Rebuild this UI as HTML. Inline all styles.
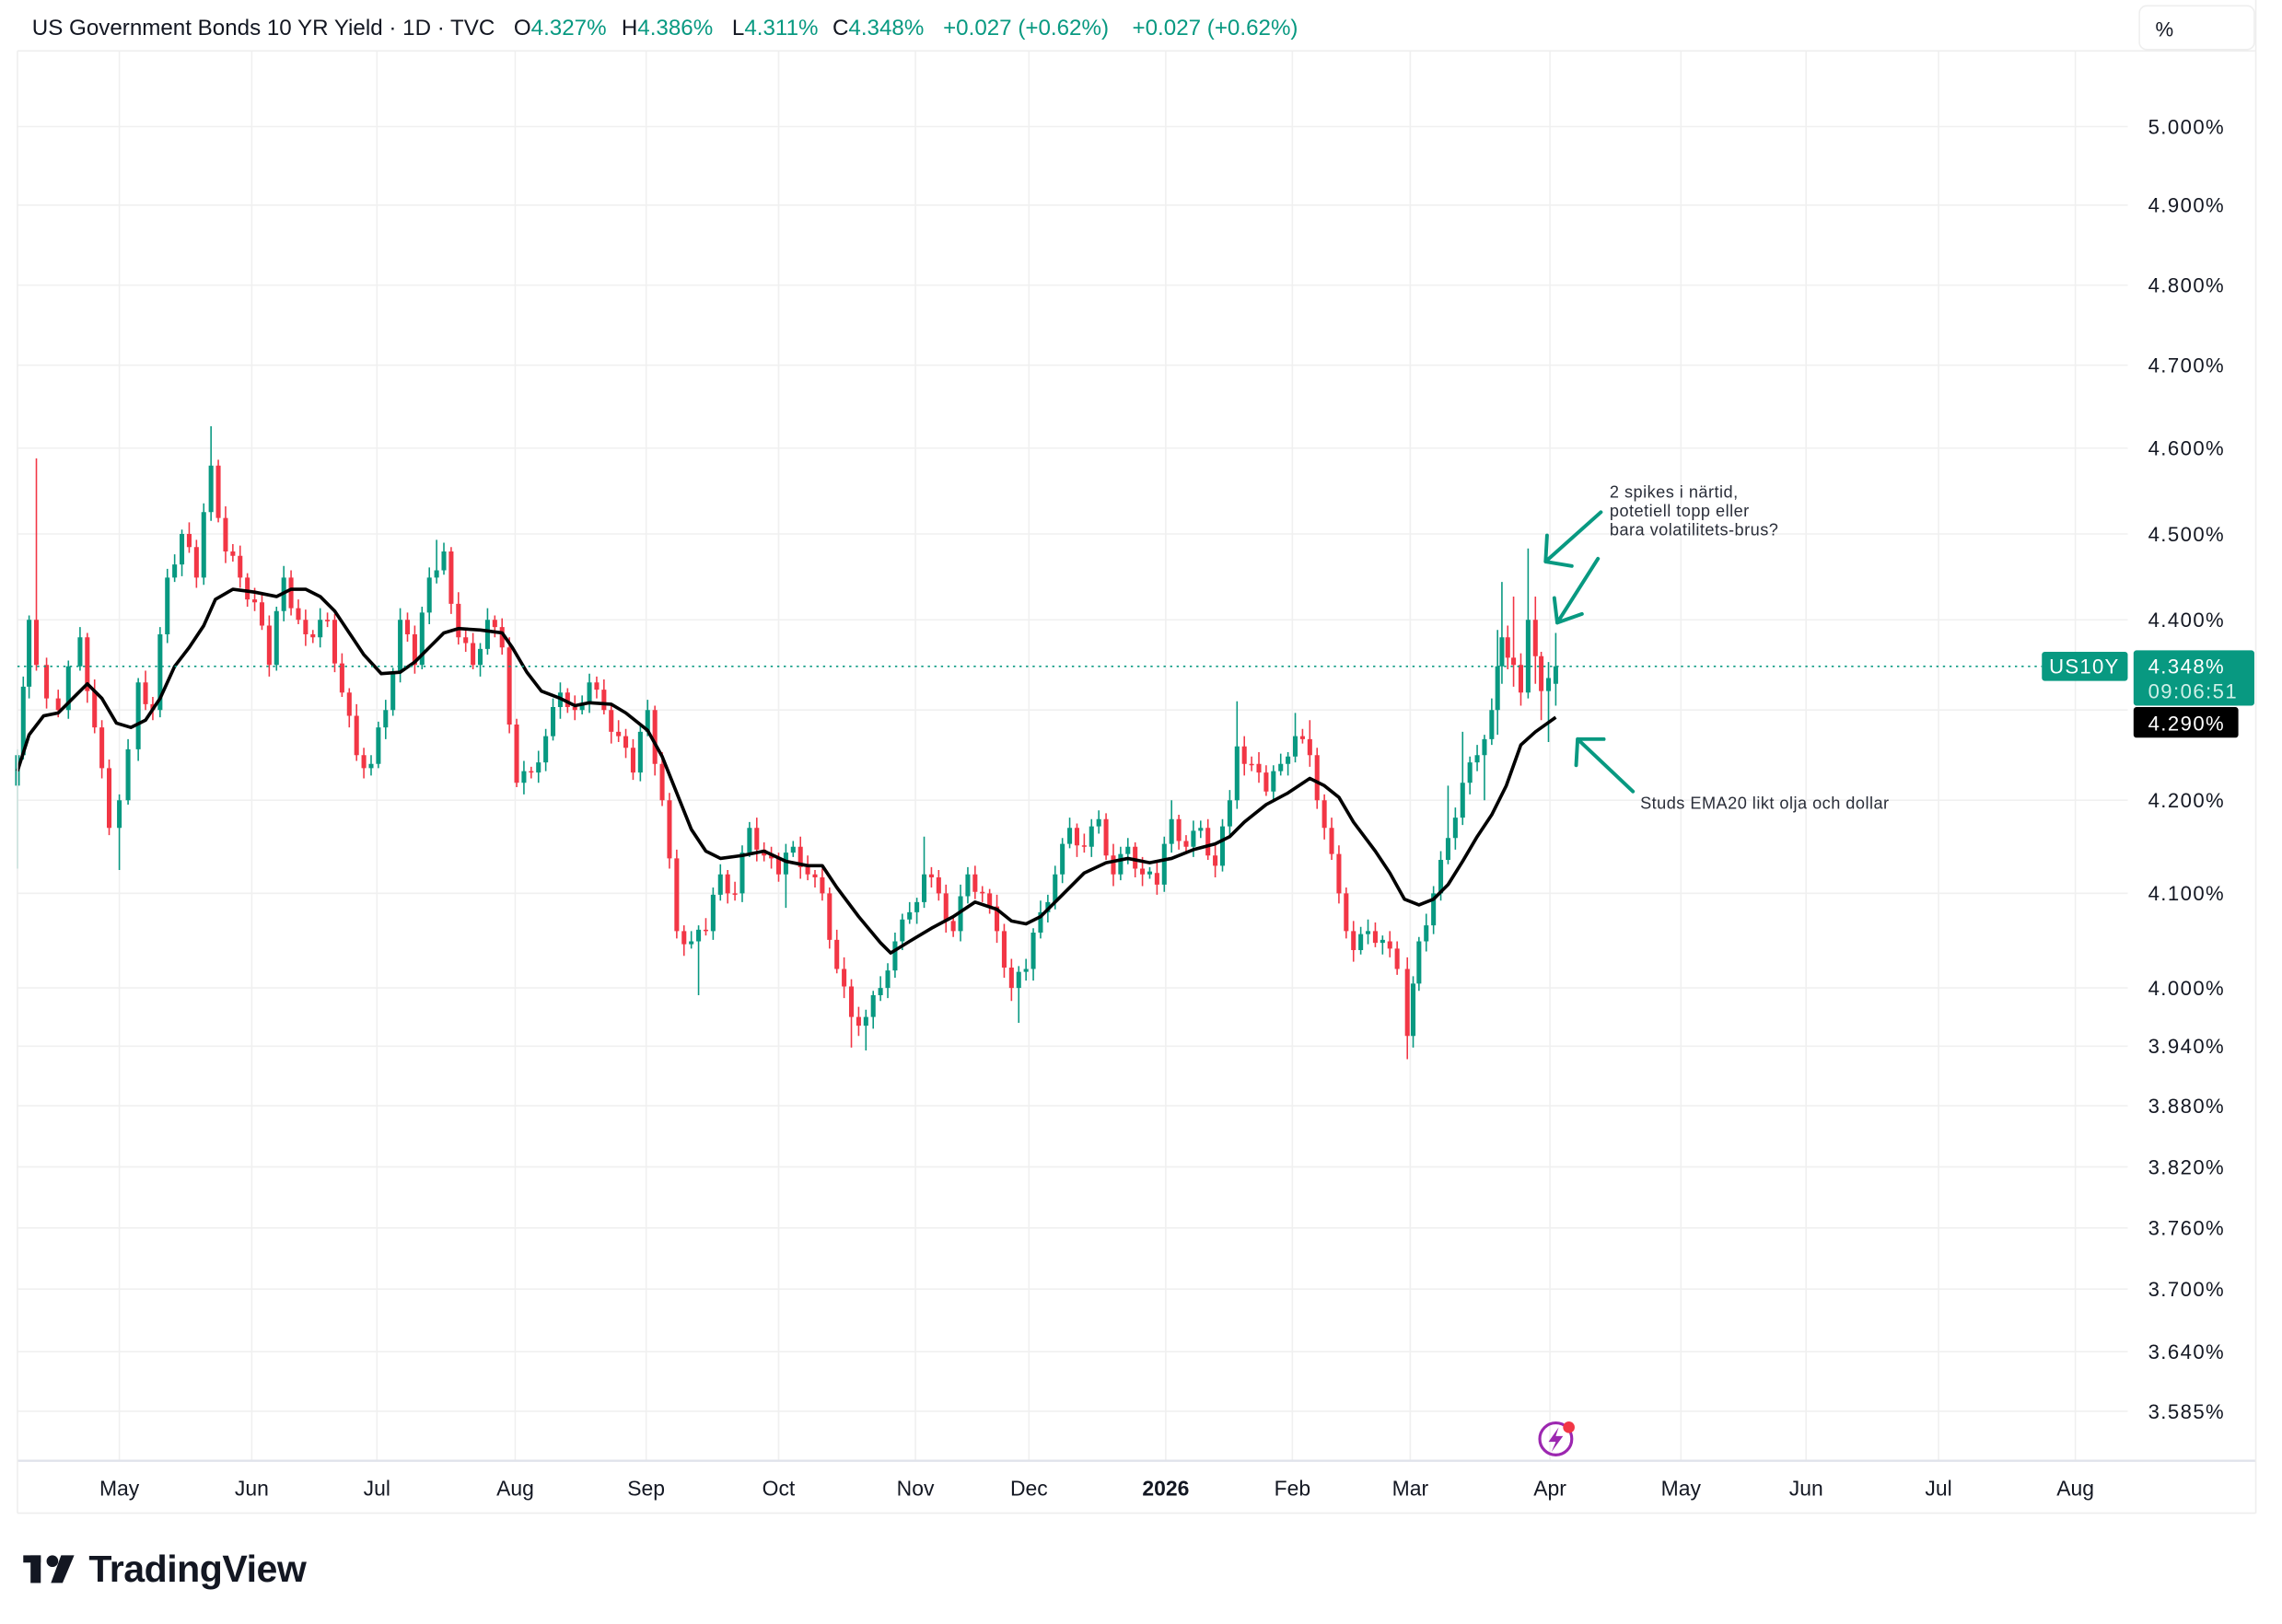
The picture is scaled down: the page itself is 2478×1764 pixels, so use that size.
<!DOCTYPE html>
<html><head><meta charset="utf-8"><style>
html,body{margin:0;padding:0;background:#fff;}
svg{display:block;}
text{font-family:"Liberation Sans",sans-serif;}
</style></head><body>
<svg width="2478" height="1764" viewBox="0 0 1568 1116.2" xmlns="http://www.w3.org/2000/svg">
<rect width="1568" height="1117" fill="#fff"/>
<g stroke="#f0f0f0" stroke-width="1">
<path d="M12 87H1462M12 141H1462M12 196H1462M12 251H1462M12 308H1462M12 367H1462M12 426H1462M12 488H1462M12 550H1462M12 614H1462M12 679H1462M12 719H1462M12 760H1462M12 802H1462M12 844H1462M12 886H1462M12 929H1462M12 970H1462"/>
<path d="M82 35V1004M173 35V1004M259 35V1004M354 35V1004M444 35V1004M535 35V1004M629 35V1004M707 35V1004M801 35V1004M888 35V1004M969 35V1004M1065 35V1004M1155 35V1004M1241 35V1004M1332 35V1004M1426 35V1004"/>
</g>
<!-- green wicks -->
<path stroke="#089981" stroke-width="1" fill="none" d="M12 515V597M16 465V522M20 423V480M47 454V494M55 431V461M82 546V598M88 508V553M95 466V523M110 431V493M115 391V442M120 381V400M125 364V396M140 346V402M145 293V358M190 417V461M195 389V427M220 418V445M255 519V533M260 496V528M265 481V508M270 459V492M275 418V469M290 417V460M295 390V429M300 371V401M305 373V395M330 442V465M335 418V450M360 523V546M370 516V538M375 501V530M380 480V509M385 469V494M400 478V491M405 463V490M440 499V537M445 481V506M475 640V652M480 636V684M490 610V646M495 594V619M510 581V620M515 565V589M540 580V624M545 578V589M595 694V722M600 681V707M605 671V688M610 662V686M615 641V672M620 628V653M625 620V635M630 617V635M635 575V624M660 608V647M665 596V621M700 664V703M705 659V674M710 638V674M715 619V645M720 615V634M725 595V625M730 576V607M735 562V583M750 563V589M755 557V573M770 582V605M775 576V594M790 596V604M800 575V613M805 550V586M820 564V589M825 564V576M840 563V599M845 543V575M850 482V556M875 526V550M880 518V533M885 517V533M890 490V524M935 637V656M940 632V649M950 643V656M971 671V720M975 644V681M980 628V654M985 609V642M990 585V619M995 540V594M1000 555V584M1005 503V567M1010 520V546M1015 512V530M1020 505V550M1025 480V512M1029 433V505M1032 400V470M1050 377V480M1064 455V510M1069 435V485"/>
<path stroke="#089981" stroke-width="3.2" fill="none" d="M12 540V519M16 519V472M20 472V426M47 488V458M55 458V438M82 569V550M88 550V515M95 515V469M110 488V436M115 436V397M120 397V388M125 388V367M140 397V352M145 352V320M190 457V420M195 420V397M220 438V426M255 528V525M260 525V500M265 500V488M270 488V462M275 462V426M290 457V421M295 421V397M300 397V392M305 392V379M330 457V446M335 446V426M360 538V530M370 531V524M375 524V506M380 506V486M385 486V476M400 488V483M405 483V469M440 531V503M445 503V488M475 649V647M480 647V639M490 640V615M495 615V601M510 614V586M515 586V569M540 601V586M545 586V582M595 705V699M600 699V684M605 684V679M610 679V667M615 667V647M620 647V632M625 632V627M630 627V620M635 620V601M660 640V616M665 616V601M700 679V668M705 668V666M710 666V641M715 641V627M720 627V620M725 620V601M730 601V580M735 580V569M750 582V568M755 568V563M770 601V587M775 587V582M790 601V599M800 608V580M805 580V563M820 582V571M825 571V569M840 595V568M845 568V550M850 550V513M875 544V530M880 530V525M885 525V520M890 520V506M935 653V642M940 642V640M950 648V646M971 712V676M975 676V647M980 647V636M985 636V614M990 614V591M995 591V576M1000 576V562M1005 562V538M1010 538V524M1015 524V519M1020 519V508M1025 508V488M1029 488V458M1032 458V438M1050 476V426M1064 475V466M1069 470V458"/>
<!-- red -->
<path stroke="#f23645" stroke-width="1" fill="none" d="M25 315V461M32 452V487M40 474V493M60 435V483M65 467V504M70 495V535M75 522V574M100 461V488M105 479V495M130 359V380M135 371V404M150 316V359M155 348V387M160 374V386M165 375V404M170 394V417M175 404V420M180 409V433M185 423V465M200 392V423M205 412V429M210 419V444M215 433V442M225 421V431M230 422V462M235 449V479M240 473V500M245 484V523M250 514V535M280 421V441M285 430V463M310 376V422M315 407V443M320 433V448M325 435V460M340 423V438M345 425V450M350 438V504M355 494V541M365 527V535M390 473V490M395 478V495M410 465V480M415 467V491M420 485V511M425 495V510M430 501V521M435 508V536M450 485V533M455 517V554M460 545V597M465 584V645M470 636V657M485 631V643M500 598V621M505 606V619M520 562V592M525 579V592M530 582V597M535 586V606M550 575V604M555 588V605M560 598V610M565 597V619M570 610V652M575 639V669M580 658V686M585 673V720M590 692V712M640 596V610M645 598V619M650 608V641M655 630V644M670 595V618M675 609V620M680 611V628M685 615V648M690 635V672M695 659V688M740 566V589M745 573V586M760 559V591M765 580V609M780 579V603M785 589V609M795 593V615M810 560V584M815 574V586M830 563V591M835 580V603M855 506V533M860 520V530M865 517V538M870 526V547M895 501V511M900 495V527M905 514V556M910 546V577M915 562V591M920 581V621M925 610V645M930 633V661M945 634V651M955 640V658M960 647V670M967 658V728M1036 430V460M1040 410V472M1045 449V485M1055 410V470M1059 448V495"/>
<path stroke="#f23645" stroke-width="3.2" fill="none" d="M25 426V457M32 457V480M40 480V488M60 438V475M65 475V500M70 500V528M75 528V569M100 469V484M105 484V488M130 367V376M135 376V397M150 320V356M155 356V379M160 379V382M165 382V397M170 397V412M175 412V414M180 414V430M185 430V457M200 397V418M205 418V426M210 426V436M215 436V438M225 426V427M230 426V456M235 456V476M240 476V492M245 492V519M250 519V528M280 426V436M285 436V457M310 379V415M315 415V438M320 438V442M325 442V457M340 426V431M345 431V445M350 445V498M355 498V538M365 530V531M390 476V486M395 486V488M410 469V474M415 474V488M420 488V503M425 503V506M430 506V514M435 514V531M450 488V525M455 525V550M460 550V590M465 590V640M470 640V649M485 639V640M500 601V614M505 614V615M520 569V584M525 584V588M530 588V590M535 590V601M550 582V596M555 596V601M560 601V603M565 603V614M570 614V646M575 646V666M580 666V678M585 678V699M590 699V705M640 601V603M645 603V614M650 614V633M655 633V640M670 601V613M675 613V614M680 614V623M685 623V640M690 640V665M695 665V679M740 569V581M745 581V582M760 563V588M765 588V601M780 582V597M785 597V601M795 600V608M810 563V578M815 578V582M830 569V588M835 588V595M855 513V525M860 525V526M865 525V531M870 531V544M895 506V508M900 508V519M905 519V550M910 550V569M915 569V587M920 587V614M925 614V640M930 640V653M945 640V648M955 647V652M960 652V666M967 666V712M1036 438V452M1040 452V457M1045 457V476M1055 426V451M1059 451V475"/>
<!-- EMA -->
<path fill="none" stroke="#000" stroke-width="2.3" stroke-linejoin="round" d="M12 530L20 505L30 492L40 490L50 480L60 470L70 480L80 497L90 500L100 495L110 480L120 458L130 445L140 430L148 412L160 405L175 407L190 410L200 405L210 405L220 410L230 420L240 435L250 450L262 463L275 462L285 455L295 445L305 435L315 432L330 433L345 435L352 445L362 462L372 475L385 480L395 485L405 483L420 484L430 490L445 502L455 520L465 545L475 570L485 585L495 590L510 588L525 585L540 592L555 595L565 595L575 610L590 630L605 648L612 655L625 647L640 638L655 630L670 620L685 625L695 633L705 635L715 630L730 615L745 600L760 593L775 590L790 593L805 590L820 584L835 580L845 575L855 565L870 553L885 545L900 535L910 540L920 548L930 565L945 585L955 600L965 618L975 622L985 618L995 608L1005 592L1015 575L1025 560L1035 540L1045 512L1055 503L1069 493"/>
<!-- frame -->
<line x1="12" y1="35" x2="1550" y2="35" stroke="#eeeeee"/>
<line x1="12" y1="1004" x2="1550" y2="1004" stroke="#e0e3eb" stroke-width="1.5"/>
<line x1="12" y1="1040" x2="1550" y2="1040" stroke="#eeeeee"/>
<line x1="12" y1="35" x2="12" y2="1040" stroke="#eeeeee"/>
<line x1="1550" y1="0" x2="1550" y2="1040" stroke="#eeeeee"/>
<!-- header -->
<g font-size="15.3" fill="#131722">
<text x="22" y="24">US Government Bonds 10 YR Yield · 1D · TVC</text>
<text x="353" y="24">O<tspan fill="#089981">4.327%</tspan></text>
<text x="427" y="24">H<tspan fill="#089981">4.386%</tspan></text>
<text x="503" y="24">L<tspan fill="#089981">4.311%</tspan></text>
<text x="572" y="24">C<tspan fill="#089981">4.348%</tspan></text>
<text x="648" y="24" fill="#089981">+0.027 (+0.62%)</text>
<text x="778" y="24" fill="#089981">+0.027 (+0.62%)</text>
</g>
<rect x="1470" y="4" width="79" height="30" rx="5" fill="#fff" stroke="#eeeeee"/>
<text x="1481" y="25" font-size="14" fill="#131722">%</text>
<g font-size="14" fill="#131722" letter-spacing="0.9">
<text x="1476" y="92">5.000%</text><text x="1476" y="146">4.900%</text><text x="1476" y="201">4.800%</text><text x="1476" y="256">4.700%</text><text x="1476" y="313">4.600%</text><text x="1476" y="372">4.500%</text><text x="1476" y="431">4.400%</text><text x="1476" y="555">4.200%</text><text x="1476" y="619">4.100%</text><text x="1476" y="684">4.000%</text><text x="1476" y="724">3.940%</text><text x="1476" y="765">3.880%</text><text x="1476" y="807">3.820%</text><text x="1476" y="849">3.760%</text><text x="1476" y="891">3.700%</text><text x="1476" y="934">3.640%</text><text x="1476" y="975">3.585%</text>
</g>
<g font-size="14.5" fill="#131722" text-anchor="middle">
<text x="82" y="1028">May</text><text x="173" y="1028">Jun</text><text x="259" y="1028">Jul</text><text x="354" y="1028">Aug</text><text x="444" y="1028">Sep</text><text x="535" y="1028">Oct</text><text x="629" y="1028">Nov</text><text x="707" y="1028">Dec</text><text x="801" y="1028" font-weight="bold">2026</text><text x="888" y="1028">Feb</text><text x="969" y="1028">Mar</text><text x="1065" y="1028">Apr</text><text x="1155" y="1028">May</text><text x="1241" y="1028">Jun</text><text x="1332" y="1028">Jul</text><text x="1426" y="1028">Aug</text>
</g>
<!-- last price -->
<line x1="12" y1="458" x2="1403" y2="458" stroke="#089981" stroke-width="1" stroke-dasharray="1.5,3"/>
<rect x="1403" y="448" width="59" height="20" rx="2" fill="#089981"/>
<text x="1408" y="463" font-size="14" fill="#fff" letter-spacing="0.8">US10Y</text>
<rect x="1466" y="447" width="83" height="38" rx="2" fill="#089981"/>
<text x="1476" y="463" font-size="14" fill="#fff" letter-spacing="0.9">4.348%</text>
<text x="1476" y="480" font-size="14" fill="#d0f0e8" letter-spacing="0.9">09:06:51</text>
<rect x="1466" y="486" width="72" height="21" rx="2" fill="#000"/>
<text x="1476" y="502" font-size="14" fill="#fff" letter-spacing="0.9">4.290%</text>
<!-- annotations -->
<g font-size="11.5" fill="#2a2e39" letter-spacing="0.3">
<text x="1106" y="342">2 spikes i närtid,</text>
<text x="1106" y="355">potetiell topp eller</text>
<text x="1106" y="368">bara volatilitets-brus?</text>
<text x="1127" y="556">Studs EMA20 likt olja och dollar</text>
</g>
<g stroke="#089981" stroke-width="2.5" fill="none" stroke-linecap="round" stroke-linejoin="round">
<path d="M1100 352 L1062 386 M1063 368 L1062 386 L1080 389"/>
<path d="M1098 384 L1070 428 M1068 411 L1070 428 L1087 422"/>
<path d="M1122 544 L1084 508 M1083 526 L1084 508 L1102 508"/>
</g>
<circle cx="1069" cy="989" r="11" fill="none" stroke="#9c27b0" stroke-width="2"/>
<path d="M1071 981 L1064 991 L1069 991 L1066 998 L1074 987 L1069 987 Z" fill="#9c27b0"/>
<circle cx="1078" cy="981" r="4" fill="#f23645"/>
<g fill="#131722">
<rect x="16" y="1069" width="12" height="5"/><rect x="21" y="1069" width="7" height="19"/>
<circle cx="36" cy="1073" r="4"/><path d="M42 1069 L51 1069 L43 1088 L35 1088 Z"/>
</g>
<text x="61" y="1087" font-size="26" font-weight="bold" fill="#131722" letter-spacing="-0.3">TradingView</text>
</svg>
</body></html>
